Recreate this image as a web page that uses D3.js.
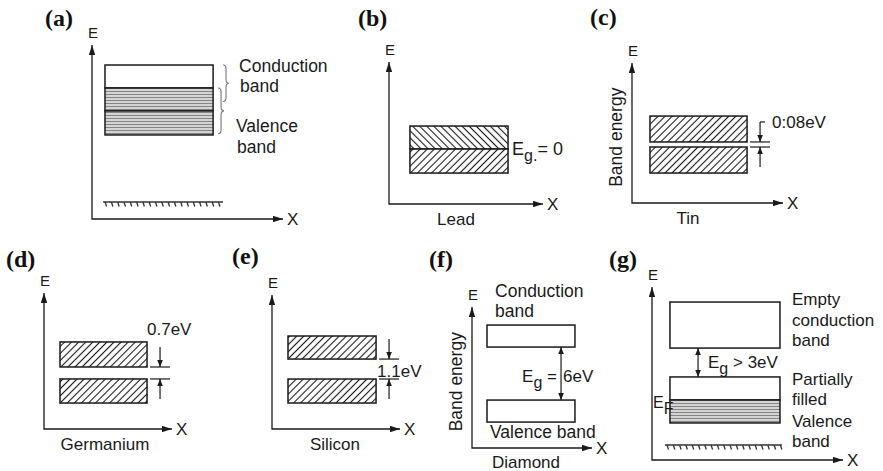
<!DOCTYPE html>
<html>
<head>
<meta charset="utf-8">
<script src="https://cdn.jsdelivr.net/npm/d3@7"></script>
<style>
  body { margin: 0; background: #fff; }
  text { font-family: "Liberation Sans", Arial, sans-serif; fill: #1a1a1a; }
  .plabel { font-family: "Liberation Serif", "Times New Roman", serif; font-weight: bold; font-size: 24px; fill: #111; }
</style>
</head>
<body>
<script>
// panel ids, their letters and the material under each X axis
const panels = ["a", "b", "c", "d", "e", "f", "g"];
const panelLabels = ["(a)", "(b)", "(c)", "(d)", "(e)", "(f)", "(g)"];
const materials = ["", "Lead", "Tin", "Germanium", "Silicon", "Diamond", ""];
const energyTitles = ["", "", "Band energy", "", "", "Band energy", ""];

// bands: energy in % of the E axis, extent in % of the X axis
const bands = [
  {panel: "a", x0: 6.8, x1: 63.4, lo: 75.3, hi: 88.5, fill: "empty"},
  {panel: "a", x0: 6.8, x1: 63.4, lo: 62.1, hi: 75.3, fill: "filled"},
  {panel: "a", x0: 6.8, x1: 63.4, lo: 48.3, hi: 62.1, fill: "filled"},
  {panel: "b", x0: 13.6, x1: 77.3, lo: 38.7, hi: 54.9, fill: "back"},
  {panel: "b", x0: 13.6, x1: 77.3, lo: 21.8, hi: 38.7, fill: "fwd"},
  {panel: "c", x0: 11.9, x1: 76.2, lo: 43.6, hi: 62.1, fill: "fwd"},
  {panel: "c", x0: 11.9, x1: 76.2, lo: 21.4, hi: 40.0, fill: "fwd"},
  {panel: "d", x0: 12.5, x1: 80.5, lo: 45.6, hi: 64.0, fill: "fwd"},
  {panel: "d", x0: 12.5, x1: 80.5, lo: 19.1, hi: 36.8, fill: "fwd"},
  {panel: "e", x0: 12.5, x1: 81.3, lo: 52.2, hi: 69.4, fill: "fwd"},
  {panel: "e", x0: 12.5, x1: 81.3, lo: 19.4, hi: 37.3, fill: "fwd"},
  {panel: "f", x0: 12.5, x1: 85.8, lo: 71.6, hi: 87.2, fill: "empty"},
  {panel: "f", x0: 12.5, x1: 85.8, lo: 18.4, hi: 34.0, fill: "empty"},
  {panel: "g", x0: 9.4, x1: 67.0, lo: 64.7, hi: 91.3, fill: "empty"},
  {panel: "g", x0: 9.4, x1: 67.0, lo: 34.7, hi: 48.0, fill: "empty"},
  {panel: "g", x0: 9.4, x1: 67.0, lo: 21.4, hi: 34.7, fill: "filled"}
];

// band gaps with their labels (parts: main text, subscript, rest)
const gaps = [
  {panel: "b", lo: 38.7, hi: 38.7, kind: "touch", parts: ["E", "g.", "= 0"]},
  {panel: "c", lo: 40.0, hi: 43.6, kind: "outer", parts: ["0:08eV"]},
  {panel: "d", lo: 36.8, hi: 45.6, kind: "outer", parts: ["0.7eV"]},
  {panel: "e", lo: 37.3, hi: 52.2, kind: "outer", parts: ["1.1eV"]},
  {panel: "f", lo: 34.0, hi: 71.6, kind: "inner", at: 74.2, parts: ["E", "g", " =", "6eV"]},
  {panel: "g", lo: 48.0, hi: 64.7, kind: "inner", at: 24.1, parts: ["E", "g", " > 3eV"]}
];

const grounds = [
  {panel: "a", e: 9.8, x0: 5.8, x1: 68.6},
  {panel: "g", e: 8.7, x0: 6.8, x1: 68.0}
];

const braces = [
  {panel: "a", at: 68.6, lo: 67.5, hi: 88.5},
  {panel: "a", at: 66.0, lo: 49.0, hi: 75.3}
];

const notes = [
  {panel: "a", text: "Conduction", x: 77.0, e: 84.5},
  {panel: "a", text: "band", x: 77.5, e: 73.0},
  {panel: "a", text: "Valence", x: 75.4, e: 50.0},
  {panel: "a", text: "band", x: 75.9, e: 37.9},
  {panel: "f", text: "Conduction", x: 19.2, e: 107.1},
  {panel: "f", text: "band", x: 19.2, e: 92.9},
  {panel: "f", text: "Valence band", x: 15.0, e: 7.1},
  {panel: "g", text: "Empty", x: 73.3, e: 89.6},
  {panel: "g", text: "conduction", x: 73.3, e: 77.2},
  {panel: "g", text: "band", x: 73.3, e: 66.0},
  {panel: "g", text: "Partially", x: 73.3, e: 43.4},
  {panel: "g", text: "filled", x: 73.3, e: 31.8},
  {panel: "g", text: "Valence", x: 73.3, e: 19.1},
  {panel: "g", text: "band", x: 73.3, e: 7.5}
];

// where each little diagram sits on the page
const layout = {
  a: {ox: 92, oy: 219, xTip: 283, yTip: 45, lab: [45, 26]},
  b: {ox: 389, oy: 204, xTip: 543, yTip: 62, lab: [358, 26], mat: 456},
  c: {ox: 632, oy: 203, xTip: 783, yTip: 63, lab: [590, 25], mat: 688},
  d: {ox: 44, oy: 429, xTip: 172, yTip: 293, lab: [6, 267], mat: 105},
  e: {ox: 272, oy: 429, xTip: 400, yTip: 295, lab: [232, 264], mat: 335},
  f: {ox: 472, oy: 448, xTip: 592, yTip: 307, lab: [429, 267], mat: 526},
  g: {ox: 652, oy: 460, xTip: 843, yTip: 287, lab: [609, 267]}
};

var width = 883, height = 471;
var ink = "#1a1a1a";

var svg = d3.select("body").append("svg")
  .attr("width", width).attr("height", height);

var defs = svg.append("defs");

function hatch(id, angle) {
  var p = defs.append("pattern").attr("id", id)
    .attr("patternUnits", "userSpaceOnUse")
    .attr("width", 5).attr("height", 5)
    .attr("patternTransform", "rotate(" + angle + ")");
  p.append("rect").attr("width", 5).attr("height", 5).attr("fill", "#fff");
  p.append("line").attr("x1", 2.5).attr("x2", 2.5).attr("y1", -1).attr("y2", 6)
    .attr("stroke", ink).attr("stroke-width", 1.1);
}
hatch("fwd", 45);
hatch("back", -45);

var grey = defs.append("pattern").attr("id", "filled")
  .attr("patternUnits", "userSpaceOnUse").attr("width", 10).attr("height", 3);
grey.append("rect").attr("width", 10).attr("height", 3).attr("fill", "#d8d8d8");
grey.append("line").attr("x1", 0).attr("x2", 10).attr("y1", 1.5).attr("y2", 1.5)
  .attr("stroke", "#858585").attr("stroke-width", 1.1);

function marker(id, len, half) {
  defs.append("marker").attr("id", id)
    .attr("markerUnits", "userSpaceOnUse")
    .attr("viewBox", "0 0 " + len + " " + (2 * half))
    .attr("markerWidth", len).attr("markerHeight", 2 * half)
    .attr("refX", len).attr("refY", half)
    .attr("orient", "auto-start-reverse")
    .append("path").attr("d", "M0,0L" + len + "," + half + "L0," + (2 * half) + "Z")
    .attr("fill", ink);
}
marker("axisHead", 10, 3.2);
marker("smallHead", 7, 2.8);

function sub(sel, parts) {
  // parts: [main, subscript, rest...]
  sel.append("tspan").text(parts[0]);
  if (parts.length > 1) sel.append("tspan").attr("dy", 6).attr("font-size", "16px").text(parts[1]);
  if (parts.length > 2) sel.append("tspan").attr("dy", -6).text(parts[2]);
}

panels.forEach(function(id, i) {
  var L = layout[id];
  var x = d3.scaleLinear().domain([0, 100]).range([L.ox, L.xTip]);
  var y = d3.scaleLinear().domain([0, 100]).range([L.oy, L.yTip]);
  var g = svg.append("g").attr("class", "panel-" + id);

  g.append("text").attr("class", "plabel")
    .attr("x", L.lab[0]).attr("y", L.lab[1]).text(panelLabels[i]);

  // axes drawn from the scales
  var axisLine = d3.line().x(d => x(d[0])).y(d => y(d[1]));
  g.append("path").attr("d", axisLine([[0, 100], [0, 0], [100, 0]]))
    .attr("fill", "none").attr("stroke", ink).attr("stroke-width", 1.3)
    .attr("marker-start", "url(#axisHead)").attr("marker-end", "url(#axisHead)");

  g.append("text").attr("x", x(0) + 1).attr("y", y(100) - 7)
    .attr("text-anchor", "middle").attr("font-size", "15px").text("E");
  g.append("text").attr("x", x(100) + 4).attr("y", y(0) + 6)
    .attr("font-size", "17px").text("X");

  if (materials[i])
    g.append("text").attr("x", L.mat).attr("y", Math.min(y(0) + 21, height - 3))
      .attr("text-anchor", "middle").attr("font-size", "17px").text(materials[i]);

  if (energyTitles[i])
    g.append("text")
      .attr("transform", "translate(" + (x(0) - 10) + "," + y(47) + ") rotate(-90)")
      .attr("text-anchor", "middle").attr("font-size", "17.5px").text(energyTitles[i]);

  // ground level hatch
  grounds.filter(d => d.panel === id).forEach(function(d) {
    g.append("line").attr("x1", x(d.x0)).attr("x2", x(d.x1))
      .attr("y1", y(d.e)).attr("y2", y(d.e))
      .attr("stroke", "#333").attr("stroke-width", 1.6);
    g.selectAll(null).data(d3.range(x(d.x0) + 2, x(d.x1), 6.3)).join("line")
      .attr("x1", v => v).attr("x2", v => v + 1.5)
      .attr("y1", y(d.e)).attr("y2", y(d.e) + 4.5)
      .attr("stroke", "#333").attr("stroke-width", 1.3);
  });

  g.selectAll("rect.band").data(bands.filter(d => d.panel === id)).join("rect")
    .attr("class", "band")
    .attr("x", d => x(d.x0)).attr("width", d => x(d.x1) - x(d.x0))
    .attr("y", d => y(d.hi)).attr("height", d => y(d.lo) - y(d.hi))
    .attr("fill", d => d.fill === "empty" ? "#fff" : "url(#" + d.fill + ")")
    .attr("stroke", ink).attr("stroke-width", 1.5);

  braces.filter(d => d.panel === id).forEach(function(d) {
    var bx = x(d.at), y0 = y(d.hi), y1 = y(d.lo), ym = (y0 + y1) / 2, w = 6, r = 4;
    var p = d3.path();
    p.moveTo(bx, y0);
    p.quadraticCurveTo(bx + w / 2, y0, bx + w / 2, y0 + r);
    p.lineTo(bx + w / 2, ym - r);
    p.quadraticCurveTo(bx + w / 2, ym, bx + w, ym);
    p.quadraticCurveTo(bx + w / 2, ym, bx + w / 2, ym + r);
    p.lineTo(bx + w / 2, y1 - r);
    p.quadraticCurveTo(bx + w / 2, y1, bx, y1);
    g.append("path").attr("d", p.toString()).attr("fill", "none")
      .attr("stroke", "#777").attr("stroke-width", 1.1);
  });

  gaps.filter(d => d.panel === id).forEach(function(d) {
    var band = bands.find(b => b.panel === id);
    var right = x(band.x1);
    if (d.kind === "touch") {
      var t = g.append("text").attr("x", right + 4).attr("y", y(d.lo) + 6).attr("font-size", "18px");
      sub(t, d.parts);
    } else if (d.kind === "outer") {
      var ax = right + 13, top = y(d.hi), bot = y(d.lo);
      [top, bot].forEach(function(v) {
        g.append("line").attr("x1", right + 3).attr("x2", right + 23)
          .attr("y1", v).attr("y2", v).attr("stroke", ink).attr("stroke-width", 1.2);
      });
      g.append("line").attr("x1", ax).attr("x2", ax).attr("y1", top - 20).attr("y2", top)
        .attr("stroke", ink).attr("stroke-width", 1.2).attr("marker-end", "url(#smallHead)");
      g.append("line").attr("x1", ax).attr("x2", ax).attr("y1", bot + 20).attr("y2", bot)
        .attr("stroke", ink).attr("stroke-width", 1.2).attr("marker-end", "url(#smallHead)");
      var tx, ty;
      if (id === "c") {
        g.append("line").attr("x1", ax).attr("x2", ax + 5).attr("y1", top - 20).attr("y2", top - 20)
          .attr("stroke", ink).attr("stroke-width", 1.2);
        tx = ax + 12; ty = top - 14;
      } else if (id === "d") {
        tx = right; ty = top - 32;
      } else {
        tx = right + 1; ty = bot - 2;
      }
      g.append("text").attr("x", tx).attr("y", ty).attr("font-size", "17px").text(d.parts[0]);
    } else {
      var ix = x(d.at), ym = (y(d.hi) + y(d.lo)) / 2;
      g.append("line").attr("x1", ix).attr("x2", ix).attr("y1", y(d.hi)).attr("y2", y(d.lo))
        .attr("stroke", ink).attr("stroke-width", 1.2)
        .attr("marker-start", "url(#smallHead)").attr("marker-end", "url(#smallHead)");
      if (id === "f") {
        var t1 = g.append("text").attr("x", ix - 39).attr("y", ym + 8).attr("font-size", "17px");
        sub(t1, d.parts.slice(0, 3));
        g.append("text").attr("x", ix + 2).attr("y", ym + 8).attr("font-size", "17px").text(d.parts[3]);
      } else {
        var t2 = g.append("text").attr("x", ix + 10).attr("y", ym + 5.5).attr("font-size", "17px");
        sub(t2, d.parts);
      }
    }
  });

  g.selectAll("text.note").data(notes.filter(d => d.panel === id)).join("text")
    .attr("class", "note")
    .attr("x", d => x(d.x)).attr("y", d => y(d.e))
    .attr("font-size", id === "g" ? "17px" : "17.5px").text(d => d.text);

  if (id === "g") {
    var ef = g.append("text").attr("x", x(0.5)).attr("y", y(30.1)).attr("font-size", "16px");
    sub(ef, ["E", "F"]);
  }
});
</script>
</body>
</html>
